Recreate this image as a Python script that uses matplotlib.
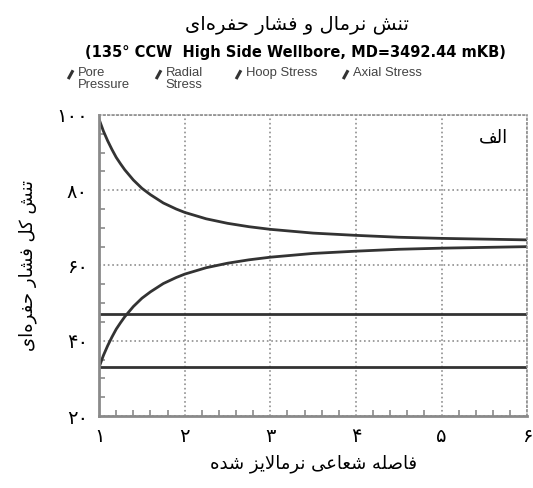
import matplotlib
matplotlib.use("Agg")
import matplotlib.pyplot as plt
from matplotlib.lines import Line2D
from matplotlib.ticker import MultipleLocator

# Normalised radial distance r/a and the stresses read along it
r_hoop = [1.0, 1.05, 1.1, 1.15, 1.2, 1.25, 1.3, 1.4, 1.5, 1.6, 1.75, 1.9, 2.0,
          2.25, 2.5, 2.75, 3.0, 3.5, 4.0, 4.5, 5.0, 5.5, 6.0]
hoop_stress = [98.8, 95.7, 93.1, 90.8, 88.7, 87.0, 85.4, 82.7, 80.5, 78.8, 76.6, 75.0, 74.1,
               72.4, 71.2, 70.3, 69.6, 68.6, 68.0, 67.5, 67.2, 67.0, 66.8]
r_radial = [1.0, 1.05, 1.1, 1.15, 1.2, 1.25, 1.3, 1.4, 1.5, 1.6, 1.75, 1.9, 2.0,
            2.25, 2.5, 2.75, 3.0, 3.5, 4.0, 4.5, 5.0, 5.5, 6.0]
radial_stress = [33.0, 36.1, 38.7, 41.0, 43.1, 44.8, 46.4, 49.1, 51.3, 53.0, 55.2, 56.8, 57.7,
                 59.4, 60.6, 61.5, 62.2, 63.2, 63.8, 64.3, 64.6, 64.8, 65.0]
r_flat = [1.0, 6.0]
pore_pressure = [33.0, 33.0]
axial_stress = [47.2, 47.2]

x_ticks = [1, 2, 3, 4, 5, 6]
y_ticks = [20, 40, 60, 80, 100]
legend_labels = ["Pore\nPressure", "Radial\nStress", "Hoop Stress", "Axial Stress"]

title = "تنش نرمال و فشار حفره\u200cای"
subtitle = "(135° CCW  High Side Wellbore, MD=3492.44 mKB)"
x_label = "فاصله شعاعی نرمالایز شده"
y_label = "تنش کل فشار حفره\u200cای"
panel_tag = "الف"

# matplotlib does no Arabic shaping, so pick presentation forms by hand
# (isolated, final, initial, medial)
FORMS = {
    "ا": ("\uFE8D", "\uFE8E", None, None),
    "ت": ("\uFE95", "\uFE96", "\uFE97", "\uFE98"),
    "ح": ("\uFEA1", "\uFEA2", "\uFEA3", "\uFEA4"),
    "د": ("\uFEA9", "\uFEAA", None, None),
    "ر": ("\uFEAD", "\uFEAE", None, None),
    "ز": ("\uFEAF", "\uFEB0", None, None),
    "ش": ("\uFEB5", "\uFEB6", "\uFEB7", "\uFEB8"),
    "ص": ("\uFEB9", "\uFEBA", "\uFEBB", "\uFEBC"),
    "ع": ("\uFEC9", "\uFECA", "\uFECB", "\uFECC"),
    "ف": ("\uFED1", "\uFED2", "\uFED3", "\uFED4"),
    "ک": ("\uFB8E", "\uFB8F", "\uFB90", "\uFB91"),
    "ل": ("\uFEDD", "\uFEDE", "\uFEDF", "\uFEE0"),
    "م": ("\uFEE1", "\uFEE2", "\uFEE3", "\uFEE4"),
    "ن": ("\uFEE5", "\uFEE6", "\uFEE7", "\uFEE8"),
    "ه": ("\uFEE9", "\uFEEA", "\uFEEB", "\uFEEC"),
    "و": ("\uFEED", "\uFEEE", None, None),
    "ی": ("\uFBFC", "\uFBFD", "\uFBFE", "\uFBFF"),
}
LAM_ALEF = ("\uFEFB", "\uFEFC")


def joins_forward(ch):
    return ch in FORMS and FORMS[ch][2] is not None


def shape(text):
    out = []
    i = 0
    while i < len(text):
        ch = text[i]
        prev = text[i - 1] if i > 0 else ""
        nxt = text[i + 1] if i + 1 < len(text) else ""
        if ch not in FORMS:
            if ch != "\u200c":
                out.append(ch)
            i += 1
            continue
        linked_before = joins_forward(prev)
        if ch == "ل" and nxt == "ا":
            out.append(LAM_ALEF[1] if linked_before else LAM_ALEF[0])
            i += 2
            continue
        linked_after = joins_forward(ch) and nxt in FORMS
        iso, fin, ini, med = FORMS[ch]
        if linked_before and linked_after:
            out.append(med)
        elif linked_before:
            out.append(fin)
        elif linked_after:
            out.append(ini)
        else:
            out.append(iso)
        i += 1
    return "".join(reversed(out))


def fa_digits(v):
    return str(v).translate(str.maketrans("0123456789", "۰۱۲۳۴۵۶۷۸۹"))


line_color = "#333333"
axis_gray = "#8a8a8a"

fig = plt.figure(figsize=(5.33, 4.88), dpi=100)
ax = fig.add_axes([0.186, 0.1475, 0.803, 0.617])

ax.plot(r_flat, pore_pressure, color=line_color, lw=2.0)
ax.plot(r_radial, radial_stress, color=line_color, lw=2.0)
ax.plot(r_hoop, hoop_stress, color=line_color, lw=2.0)
ax.plot(r_flat, axial_stress, color=line_color, lw=2.0)

ax.set_xlim(1, 6)
ax.set_ylim(20, 100)
ax.set_xticks(x_ticks)
ax.set_xticklabels([fa_digits(v) for v in x_ticks])
ax.set_yticks(y_ticks)
ax.set_yticklabels([fa_digits(v) for v in y_ticks])
ax.xaxis.set_minor_locator(MultipleLocator(0.2))
ax.yaxis.set_minor_locator(MultipleLocator(5))
ax.tick_params(which="both", direction="in", color=axis_gray, width=1.2)
ax.tick_params(which="major", length=0, labelsize=14, pad=8)
ax.tick_params(which="minor", length=4)

ax.grid(True, which="major", ls=":", lw=1.2, color="#8f8f8f")
for side in ["left", "bottom"]:
    ax.spines[side].set_color(axis_gray)
    ax.spines[side].set_linewidth(2)
for side in ["top", "right"]:
    ax.spines[side].set_color("#8f8f8f")
    ax.spines[side].set_linestyle(":")
    ax.spines[side].set_linewidth(1.2)

ax.set_xlabel(shape(x_label), fontsize=13, labelpad=6)
ax.set_ylabel(shape(y_label), fontsize=13, labelpad=14)
ax.text(0.955, 0.925, shape(panel_tag), transform=ax.transAxes,
        ha="right", va="center", fontsize=13)

fig.text(0.557, 0.948, shape(title), ha="center", va="center", fontsize=14)
fig.text(0.555, 0.893, subtitle, ha="center", va="center", fontsize=10.5,
         fontweight="bold", family="DejaVu Sans")

# legend row: short slanted strokes with small grey labels
legend_x = [0.137, 0.302, 0.452, 0.653]
for lx, label in zip(legend_x, legend_labels):
    fig.add_artist(Line2D([lx - 0.009, lx], [0.838, 0.856], transform=fig.transFigure,
                          color="#333333", lw=2.2, solid_capstyle="butt"))
    fig.text(lx + 0.009, 0.862, label, ha="left", va="top", fontsize=9.4,
             color="#444444", family="Liberation Sans", linespacing=0.92)

fig.savefig("out.png", dpi=100)
